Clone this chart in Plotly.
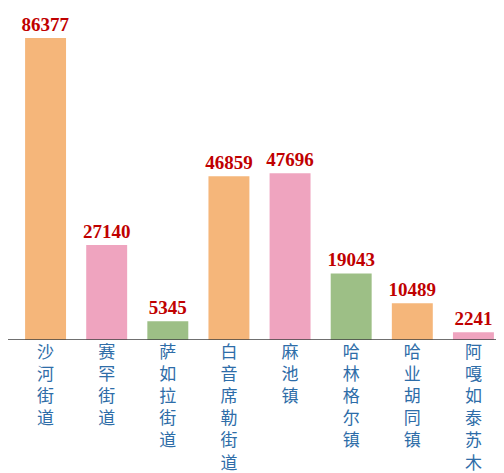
import plotly.graph_objects as go

# 数据
categories = ["沙河街道", "赛罕街道", "萨如拉街道", "白音席勒街道", "麻池镇",
              "哈林格尔镇", "哈业胡同镇", "阿嘎如泰苏木"]
values = [86377, 27140, 5345, 46859, 47696, 19043, 10489, 2241]
palette = ["#F5B67A", "#EFA4BF", "#9DBF86"]

bar_colors = [palette[i % 3] for i in range(len(categories))]
# 竖排标签：每个字一行
tick_text = ["<br>".join(list(c)) for c in categories]

fig = go.Figure()
fig.add_trace(go.Bar(
    x=categories, y=values,
    marker=dict(color=bar_colors, line=dict(width=0)),
    text=[str(v) for v in values],
    textposition="outside",
    constraintext="none",
    cliponaxis=False,
    textfont=dict(family="Liberation Serif", size=19, color="#C00000", weight="bold"),
))

# 页面 body 有 8px 边距，图尺寸相应缩小
fig.update_layout(
    width=496, height=465,
    margin=dict(l=7, r=0, t=0, b=133),
    paper_bgcolor="white", plot_bgcolor="white",
    bargap=0.33,
    showlegend=False,
    font=dict(family="Noto Sans CJK SC"),
)
fig.update_xaxes(
    tickvals=categories, ticktext=tick_text,
    tickfont=dict(size=17, color="#2E6DA8", family="Noto Sans CJK SC"),
    showline=False, ticks="", showgrid=False,
)
fig.update_yaxes(range=[0, 94958], visible=False, showgrid=False)
# 底部基线
fig.add_shape(type="line", xref="paper", yref="y", x0=-0.02, x1=1, y0=0, y1=0,
              line=dict(color="#404040", width=1.5))

fig.write_html("out.html")
